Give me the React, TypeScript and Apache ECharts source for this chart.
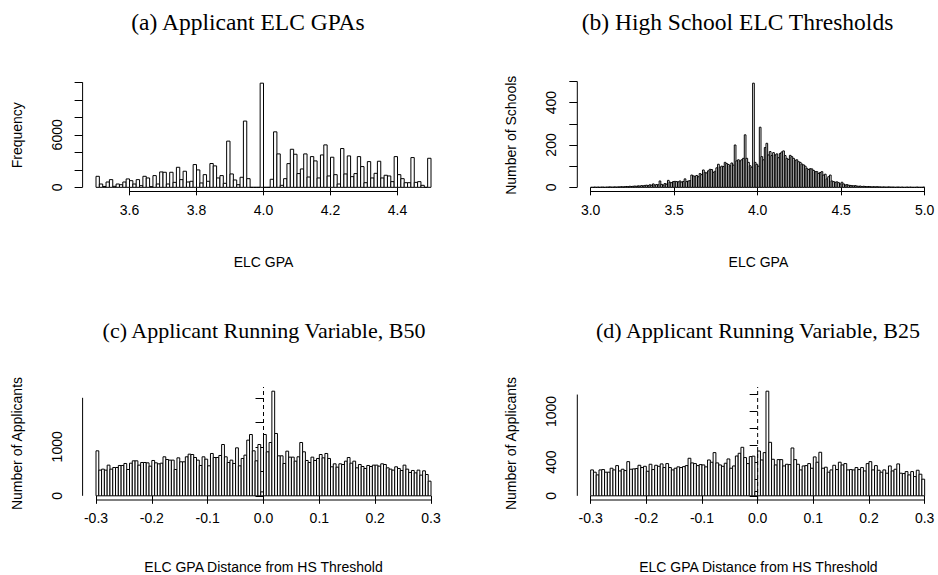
import React, { useEffect, useRef } from "react";
import * as echarts from "echarts";

// ---------- DATA ----------
// (a) Applicant ELC GPAs: bins of 0.01 from 3.50 to 4.50
const aStart = 3.5;
const aWidth = 0.01;
const aCounts = [
  1260, 380, 100, 610, 880, 115, 380, 300, 610, 960,
  760, 380, 880, 190, 1260, 1070, 80, 1340, 380, 1760,
  1720, 380, 1720, 570, 2290, 880, 1840, 610, 690, 2600,
  1990, 500, 1450, 690, 2720, 2450, 1070, 1340, 460, 5280,
  1530, 840, 300, 1150, 7570, 990, 0, 0, 0, 11900,
  0, 0, 920, 6340, 3820, 230, 990, 2710, 4350, 3780,
  1570, 2100, 3820, 1180, 3510, 3020, 1070, 3700, 4850, 1300,
  3440, 1450, 380, 4430, 1530, 3590, 1220, 1570, 3510, 2370,
  530, 2940, 1070, 1600, 2980, 1070, 1380, 1300, 650, 3510,
  1450, 990, 530, 530, 3400, 570, 650, 230, 0, 3320,
];
const aXTicks = [3.6, 3.8, 4.0, 4.2, 4.4];
const aYTicks = [0, 2000, 4000, 6000, 8000, 10000, 12000];
const aYLabels = [0, 6000];

// (b) High School ELC Thresholds: bins of 0.01 from 3.00 to 5.00
const bStart = 3.0;
const bWidth = 0.01;
const bCounts = [
  0, 0, 1, 0, 1, 0, 1, 1, 0, 1,
  1, 2, 1, 1, 2, 1, 2, 2, 3, 2,
  3, 4, 3, 5, 4, 5, 6, 5, 7, 6,
  8, 7, 9, 10, 8, 12, 10, 16, 11, 13,
  12, 30, 14, 11, 18, 15, 33, 24, 22, 27,
  28, 27, 26, 30, 25, 28, 40, 27, 30, 32,
  58, 54, 52, 56, 50, 65, 60, 82, 71, 68,
  78, 85, 84, 71, 76, 92, 109, 95, 100, 98,
  118, 112, 108, 102, 115, 105, 200, 125, 130, 125,
  130, 137, 248, 137, 118, 102, 95, 492, 118, 109,
  100, 284, 145, 130, 188, 208, 153, 169, 150, 164,
  153, 158, 140, 160, 167, 172, 150, 137, 132, 151,
  145, 137, 128, 130, 121, 118, 110, 106, 100, 90,
  84, 88, 87, 80, 74, 74, 66, 70, 74, 58,
  62, 40, 50, 58, 30, 27, 24, 26, 22, 16,
  24, 16, 11, 13, 10, 9, 8, 7, 8, 6,
  5, 6, 4, 5, 4, 3, 4, 3, 2, 3,
  2, 3, 2, 2, 1, 2, 1, 1, 2, 1,
  1, 1, 0, 1, 1, 0, 1, 0, 0, 1,
  0, 1, 0, 0, 0, 1, 0, 0, 0, 1,
];
const bXTicks = [3.0, 3.5, 4.0, 4.5, 5.0];
const bYTicks = [0, 100, 200, 300, 400, 500];
const bYLabels = [0, 200, 400];

// (c) Applicant Running Variable, B50: bins of 0.005 from -0.3 to 0.3
const cStart = -0.3;
const cWidth = 0.005;
const cCounts = [
  918, 524, 544, 524, 626, 544, 578, 578, 619, 619,
  660, 537, 666, 714, 714, 626, 680, 680, 673, 605,
  721, 673, 653, 666, 796, 741, 728, 728, 537, 775,
  694, 694, 796, 850, 843, 782, 728, 619, 796, 748,
  612, 864, 782, 782, 823, 1047, 796, 680, 728, 660,
  979, 612, 762, 830, 1136, 1251, 918, 714, 1047, 80,
  1251, 898, 1088, 2135, 1272, 816, 816, 660, 911, 789,
  789, 707, 796, 1088, 898, 721, 680, 789, 721, 762,
  843, 775, 864, 762, 592, 653, 585, 653, 639, 707,
  782, 666, 707, 571, 639, 598, 558, 619, 598, 626,
  626, 605, 653, 639, 571, 544, 524, 592, 558, 517,
  626, 544, 476, 517, 469, 524, 422, 510, 435, 299,
];
const cXTicks = [-0.3, -0.2, -0.1, 0, 0.1, 0.2, 0.3];
const cYTicks = [0, 500, 1000, 1500, 2000];
const cYLabels = [0, 1000];

// (d) Applicant Running Variable, B25: bins of 0.005 from -0.3 to 0.3
const dStart = -0.3;
const dWidth = 0.005;
const dCounts = [
  307, 280, 248, 307, 311, 280, 280, 327, 307, 358,
  295, 315, 299, 405, 315, 319, 323, 362, 335, 350,
  291, 374, 311, 362, 350, 378, 335, 382, 335, 307,
  327, 343, 335, 346, 358, 445, 390, 382, 358, 370,
  366, 343, 425, 398, 512, 390, 366, 350, 386, 437,
  327, 354, 472, 504, 575, 453, 382, 465, 470, 51,
  531, 425, 512, 1240, 634, 433, 366, 429, 429, 354,
  374, 370, 567, 429, 374, 307, 354, 358, 382, 327,
  461, 398, 516, 327, 339, 280, 307, 362, 311, 398,
  366, 382, 307, 311, 307, 335, 311, 335, 295, 382,
  405, 307, 358, 303, 280, 307, 268, 354, 295, 315,
  378, 268, 264, 287, 248, 287, 228, 303, 256, 197,
];
const dXTicks = [-0.3, -0.2, -0.1, 0, 0.1, 0.2, 0.3];
const dYTicks = [0, 200, 400, 600, 800, 1000, 1200];
const dYLabels = [0, 400, 1000];

const titles = [
  "(a) Applicant ELC GPAs",
  "(b) High School ELC Thresholds",
  "(c) Applicant Running Variable, B50",
  "(d) Applicant Running Variable, B25",
];
const xTitles = ["ELC GPA", "ELC GPA", "ELC GPA Distance from HS Threshold", "ELC GPA Distance from HS Threshold"];
const yTitles = ["Frequency", "Number of Schools", "Number of Applicants", "Number of Applicants"];

// ---------- LAYOUT ----------
const gridRects = [
  { left: 82.6, top: 79, width: 361.8, height: 112.5 },
  { left: 577.3, top: 79, width: 362.2, height: 112.5 },
  { left: 82.6, top: 387, width: 361.8, height: 113 },
  { left: 577.3, top: 387, width: 362.2, height: 113 },
];
// caption placement (subfigure captions)
const captionPos = [
  { x: 248, y: 22, size: 23.5 },
  { x: 737.5, y: 22, size: 23.5 },
  { x: 264, y: 330, size: 22 },
  { x: 758, y: 330, size: 22 },
];

const SANS = "Liberation Sans";
const SERIF = "Liberation Serif";
const Y_LABEL_OFFSET = 26;

type Panel = {
  start: number;
  width: number;
  counts: number[];
  xTicks: number[];
  yTicks: number[];
  yLabels: number[];
  zeroLine: boolean;
};

const panels: Panel[] = [
  { start: aStart, width: aWidth, counts: aCounts, xTicks: aXTicks, yTicks: aYTicks, yLabels: aYLabels, zeroLine: false },
  { start: bStart, width: bWidth, counts: bCounts, xTicks: bXTicks, yTicks: bYTicks, yLabels: bYLabels, zeroLine: false },
  { start: cStart, width: cWidth, counts: cCounts, xTicks: cXTicks, yTicks: cYTicks, yLabels: cYLabels, zeroLine: true },
  { start: dStart, width: dWidth, counts: dCounts, xTicks: dXTicks, yTicks: dYTicks, yLabels: dYLabels, zeroLine: true },
];

function buildOption() {
  const grid: any[] = [];
  const xAxis: any[] = [];
  const yAxis: any[] = [];
  const series: any[] = [];
  const graphic: any[] = [];

  panels.forEach((p, i) => {
    const r = gridRects[i];
    grid.push({ left: r.left, top: r.top, width: r.width, height: r.height, containLabel: false });
    const lo = p.start;
    const hi = p.start + p.width * p.counts.length;
    const xMin = lo - 0.04 * (hi - lo);
    const xMax = hi + 0.04 * (hi - lo);
    const maxC = Math.max(...p.counts);
    const yMin = -0.04 * maxC;
    const yMax = maxC * 1.04;

    xAxis.push({
      gridIndex: i,
      type: "value",
      min: xMin,
      max: xMax,
      axisLine: { show: false },
      splitLine: { show: false },
      axisTick: {
        show: true,
        inside: false,
        length: 8,
        customValues: p.xTicks,
        lineStyle: { color: "#000", width: 1 },
      },
      axisLabel: {
        customValues: p.xTicks,
        formatter: (v: number) => v.toFixed(1),
        color: "#000",
        fontSize: 14,
        fontFamily: SANS,
        margin: 11,
      },
    });
    yAxis.push({
      gridIndex: i,
      type: "value",
      min: yMin,
      max: yMax,
      axisLine: { show: false },
      splitLine: { show: false },
      axisTick: {
        show: true,
        inside: false,
        length: 8,
        customValues: p.yTicks,
        lineStyle: { color: "#000", width: 1 },
      },
      axisLabel: { show: false },
    });

    series.push({
      type: "custom",
      xAxisIndex: i,
      yAxisIndex: i,
      silent: true,
      data: p.counts.map((c, k) => [p.start + k * p.width, p.start + (k + 1) * p.width, c]),
      encode: { x: [0, 1], y: 2 },
      renderItem: (params: any, api: any) => {
        const a = api.coord([api.value(0), api.value(2)]);
        const b = api.coord([api.value(1), 0]);
        return {
          type: "rect",
          shape: { x: a[0], y: a[1], width: b[0] - a[0], height: b[1] - a[1] },
          style: { fill: "#fff", stroke: "#000", lineWidth: 1 },
        };
      },
    });

    const xt0 = p.xTicks[0];
    const xt1 = p.xTicks[p.xTicks.length - 1];
    const yt0 = p.yTicks[0];
    const yt1 = p.yTicks[p.yTicks.length - 1];
    series.push({
      type: "custom",
      xAxisIndex: i,
      yAxisIndex: i,
      silent: true,
      data: [[xt0, yt0]],
      renderItem: (params: any, api: any) => {
        const xa = api.coord([xt0, yMin]);
        const xb = api.coord([xt1, yMin]);
        const ya = api.coord([xMin, yt0]);
        const yb = api.coord([xMin, yt1]);
        const children: any[] = [
          { type: "line", shape: { x1: xa[0], y1: xa[1], x2: xb[0], y2: xb[1] }, style: { stroke: "#000", lineWidth: 1 } },
          { type: "line", shape: { x1: ya[0], y1: ya[1], x2: yb[0], y2: yb[1] }, style: { stroke: "#000", lineWidth: 1 } },
        ];
        p.yLabels.forEach((v) => {
          const pt = api.coord([xMin, v]);
          children.push({
            type: "text",
            x: pt[0] - Y_LABEL_OFFSET,
            y: pt[1],
            rotation: Math.PI / 2,
            style: {
              text: String(v),
              fontSize: 14,
              fontFamily: SANS,
              fill: "#000",
              align: "center",
              verticalAlign: "middle",
            },
          });
        });
        if (p.zeroLine) {
          const za = api.coord([0, yMin]);
          const zb = api.coord([0, yMax]);
          children.push({
            type: "line",
            shape: { x1: za[0], y1: za[1], x2: zb[0], y2: zb[1] },
            style: { stroke: "#000", lineWidth: 1, lineDash: [4, 3] },
          });
        }
        return { type: "group", children };
      },
    });

    const cx = r.left + r.width / 2;
    const cy = r.top + r.height / 2;
    const cap = captionPos[i];
    graphic.push({
      type: "text",
      x: cap.x,
      y: cap.y,
      style: { text: titles[i], fontSize: cap.size, fontFamily: SERIF, fill: "#000", align: "center", verticalAlign: "middle" },
    });
    graphic.push({
      type: "text",
      x: cx,
      y: r.top + r.height + (i < 2 ? 70 : 67),
      style: { text: xTitles[i], fontSize: 14, fontFamily: SANS, fill: "#000", align: "center", verticalAlign: "middle" },
    });
    graphic.push({
      type: "text",
      x: r.left - 66,
      y: cy,
      rotation: Math.PI / 2,
      style: { text: yTitles[i], fontSize: 14, fontFamily: SANS, fill: "#000", align: "center", verticalAlign: "middle" },
    });
  });

  return {
    animation: false,
    backgroundColor: "#fff",
    grid,
    xAxis,
    yAxis,
    series,
    graphic,
  };
}

export default function App() {
  const ref = useRef<HTMLDivElement>(null);
  useEffect(() => {
    if (!ref.current) return;
    const chart = echarts.init(ref.current, undefined, { renderer: "svg" });
    chart.setOption(buildOption() as any);
    return () => chart.dispose();
  }, []);
  return <div ref={ref} style={{ width: 938, height: 575, position: "absolute", left: 0, top: 0 }} />;
}
